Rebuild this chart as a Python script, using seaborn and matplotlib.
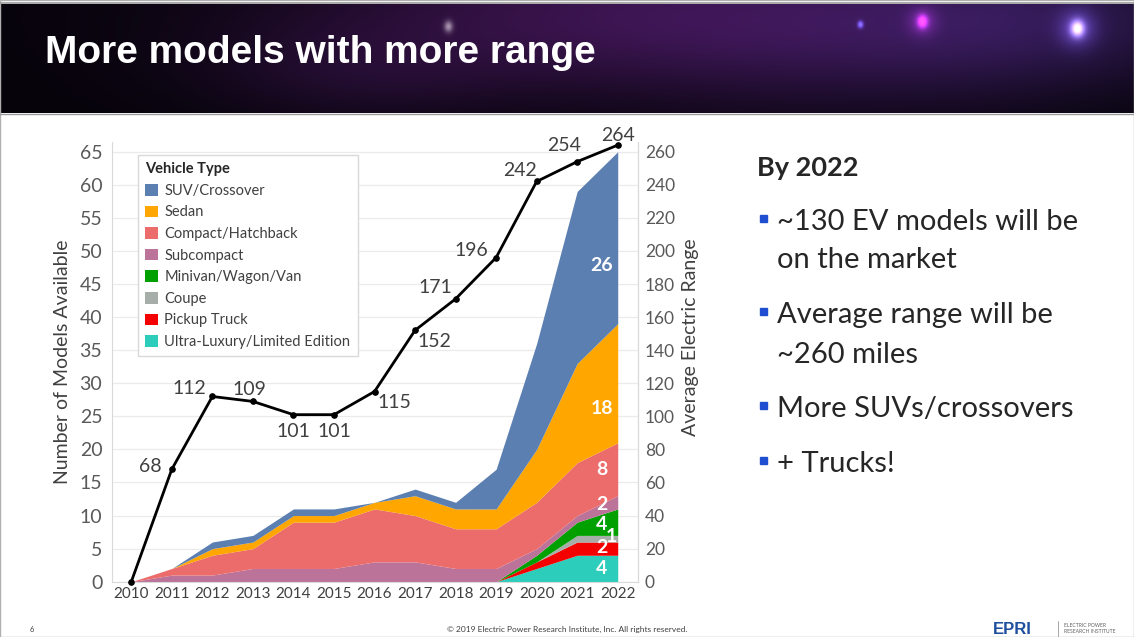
import numpy as np
import matplotlib
matplotlib.use("Agg")
import matplotlib.pyplot as plt
from matplotlib.patches import Patch, Rectangle
from matplotlib.lines import Line2D
import seaborn as sns

# ---- data -------------------------------------------------------------
years = [2010, 2011, 2012, 2013, 2014, 2015, 2016, 2017, 2018, 2019, 2020, 2021, 2022]

# models available by vehicle type (stacked bottom -> top)
ultra_luxury = [0, 0, 0, 0, 0, 0, 0, 0, 0, 0, 2, 4, 4]
pickup_truck = [0, 0, 0, 0, 0, 0, 0, 0, 0, 0, 1, 2, 2]
coupe        = [0, 0, 0, 0, 0, 0, 0, 0, 0, 0, 0, 1, 1]
minivan      = [0, 0, 0, 0, 0, 0, 0, 0, 0, 0, 1, 2, 4]
subcompact   = [0, 1, 1, 2, 2, 2, 3, 3, 2, 2, 1, 1, 2]
compact      = [0, 1, 3, 3, 7, 7, 8, 7, 6, 6, 7, 8, 8]
sedan        = [0, 0, 1, 1, 1, 1, 1, 3, 3, 3, 8, 15, 18]
suv          = [0, 0, 1, 1, 1, 1, 0, 1, 1, 6, 16, 26, 26]

# average electric range (miles)
avg_range = [0, 68, 112, 109, 101, 101, 115, 152, 171, 196, 242, 254, 264]

type_names = ["Ultra-Luxury/Limited Edition", "Pickup Truck", "Coupe",
              "Minivan/Wagon/Van", "Subcompact", "Compact/Hatchback",
              "Sedan", "SUV/Crossover"]
left_ticks = list(range(0, 66, 5))
right_ticks = list(range(0, 261, 20))

# ---- style ------------------------------------------------------------
layers = [ultra_luxury, pickup_truck, coupe, minivan, subcompact, compact, sedan, suv]
colors = ["#2ccdbb", "#f40000", "#a7aea9", "#00a000", "#bb7399", "#ec6c6c",
          "#ffa600", "#5b7fb1"]
# where each 2022 value label sits inside its band (fraction of band height)
label_frac = [0.5, 0.6, 0.8, 0.4, 0.3, 0.49, 0.29, 0.34]
label_dx = [-16, -16, -6, -16, -16, -16, -16, -16]
# offsets (pixels) of the range labels relative to their points
range_offsets = [(0, 0), (-22, 3), (-23, 8), (-3, 12), (0, -17), (0, -17), (20, -11),
                 (19, -11), (-20, 11), (-25, 7), (-17, 11), (-13, 16), (0, 10)]

sns.set_theme(style="white")
plt.rcParams["font.family"] = ["Lato", "DejaVu Sans"]

W, H = 1134, 637
fig = plt.figure(figsize=(W / 100, H / 100), dpi=100)
fig.patch.set_facecolor("white")


def fx(x):
    return x / W


def fy(y):
    return 1 - y / H


# ---- header band ------------------------------------------------------
hdr_top, hdr_bot = 4, 113
hdr = fig.add_axes([0, fy(hdr_bot), 1, (hdr_bot - hdr_top) / H])
hh = hdr_bot - hdr_top
yy, xx = np.mgrid[0:hh, 0:W].astype(float)
img = np.zeros((hh, W, 3))
img[:] = np.array([6, 3, 10]) / 255.0


def glow(cx, cy, sx, sy, color):
    g = np.exp(-0.5 * (((xx - cx) / sx) ** 2 + ((yy - cy) / sy) ** 2))
    return g[..., None] * np.array(color) / 255.0


img += glow(600, 10, 230, 55, (46, 14, 58))
img += glow(880, 25, 180, 60, (26, 12, 42))
img += glow(1060, 15, 130, 45, (22, 14, 42))
img += glow(350, 70, 110, 35, (16, 6, 22))
img += glow(448, 22, 3, 4, (120, 130, 110))
img += glow(860, 20, 2, 2.5, (90, 90, 220))
img += glow(922, 17, 3.5, 4.5, (210, 50, 210))
img += glow(922, 17, 10, 10, (60, 15, 70))
img += glow(1077, 24, 4.5, 5.5, (225, 215, 250))
img += glow(1077, 24, 13, 13, (55, 45, 110))
img = np.clip(img, 0, 1)
hdr.imshow(img, aspect="auto", extent=[0, W, hh, 0], interpolation="bilinear")
hdr.set_axis_off()
fig.add_artist(Line2D([0, 1], [fy(3), fy(3)], color="#9a9a9a", lw=1.2))
fig.add_artist(Line2D([0, 1], [fy(113.5), fy(113.5)], color="#9a9a9a", lw=1.0))
fig.text(fx(45), fy(63), "More models with more range", color="white",
         fontsize=28, fontweight="bold", family=["Liberation Sans", "DejaVu Sans"],
         va="baseline", ha="left")

# ---- chart ------------------------------------------------------------
ax_left, ax_right, ax_bottom, ax_top = 112, 638, 581.7, 141.8
ax = fig.add_axes([fx(ax_left), fy(ax_bottom), (ax_right - ax_left) / W,
                   (ax_bottom - ax_top) / H])
ax.stackplot(years, *layers, colors=colors, linewidth=0, zorder=2)
ax.set_xlim(2009.524, 2022.5)
ax.set_ylim(0, 66.5)
ax.set_yticks(left_ticks)
ax.set_xticks(years)
ax.set_xticklabels([str(y) for y in years])
ax.yaxis.grid(True, color="#ebebeb", lw=0.9, zorder=0)
ax.set_axisbelow(True)
ax.tick_params(axis="y", length=0, pad=7, labelsize=14, labelcolor="#595959")
ax.tick_params(axis="x", length=0, pad=4, labelsize=11, labelcolor="#404040")
ax.spines["top"].set_visible(False)
for s in ["left", "right", "bottom"]:
    ax.spines[s].set_color("#d9d9d9")
    ax.spines[s].set_linewidth(0.8)
ax.set_ylabel("Number of Models Available", fontsize=14, color="#404040", labelpad=6)

# value labels on the 2022 column
bottom = 0
for vals, frac, dx in zip(layers, label_frac, label_dx):
    v = vals[-1]
    ax.annotate(str(v), (years[-1], bottom + frac * v), xytext=(dx, 0),
                textcoords="offset pixels", ha="center", va="center",
                color="white", fontsize=14, fontweight="bold", zorder=5)
    bottom += v

# average range line on the secondary axis
ax2 = ax.twinx()
sns.lineplot(x=years, y=avg_range, ax=ax2, color="black", linewidth=2,
             marker="o", markersize=4, markeredgecolor="black", zorder=4)
for line in ax2.lines:
    line.set_clip_on(False)
ax2.set_ylim(0, 266)
ax2.set_yticks(right_ticks)
ax2.tick_params(axis="y", length=0, pad=5, labelsize=12.5, labelcolor="#595959")
for s in ["top", "left", "bottom"]:
    ax2.spines[s].set_visible(False)
ax2.spines["right"].set_color("#d9d9d9")
ax2.spines["right"].set_linewidth(0.8)
ax2.set_ylabel("Average Electric Range", fontsize=14, color="#404040", labelpad=6)
ax2.yaxis.set_label_coords(1.083, 0.555)

for yr, val, (dx, dy) in zip(years, avg_range, range_offsets):
    if val == 0:
        continue
    ax2.annotate(str(val), (yr, val), xytext=(dx, dy), textcoords="offset pixels",
                 ha="center", va="center", fontsize=14, color="#404040", zorder=6)

handles = [Patch(facecolor=c, edgecolor="none") for c in colors][::-1]
leg = ax2.legend(handles, type_names[::-1], title="Vehicle Type", loc="upper left",
                 bbox_to_anchor=(0.0494, 0.970), borderaxespad=0, fontsize=10.5,
                 title_fontsize=10.5, alignment="left", frameon=True, fancybox=False,
                 edgecolor="#d9d9d9", framealpha=1, handlelength=0.85,
                 handleheight=0.85, handletextpad=0.45, labelspacing=0.52,
                 borderpad=0.5)
leg.get_title().set_fontweight("bold")
leg.get_title().set_color("#262626")
for t in leg.get_texts():
    t.set_color("#404040")

# ---- bullet text ------------------------------------------------------
txt_col = "#262626"
fig.text(fx(757), fy(176), "By 2022", fontsize=19.5, fontweight="bold",
         color=txt_col, va="baseline")
bullet_lines = [
    (230, "~130 EV models will be", True),
    (268, "on the market", False),
    (323, "Average range will be", True),
    (363, "~260 miles", False),
    (417, "More SUVs/crossovers", True),
    (472, "+ Trucks!", True),
]
for y, s, has_bullet in bullet_lines:
    fig.text(fx(777), fy(y), s, fontsize=21, color=txt_col, va="baseline")
    if has_bullet:
        fig.add_artist(Rectangle((fx(760), fy(y - 8)), 7 / W, 7 / H,
                                 transform=fig.transFigure, color="#1f4fd0"))

# ---- footer -----------------------------------------------------------
fig.text(fx(30), fy(630), "6", fontsize=5.5, color="#404040", va="center")
fig.text(fx(567), fy(629), "© 2019 Electric Power Research Institute, Inc. All rights reserved.",
         fontsize=6, color="#404040", ha="center", va="center")
fig.text(fx(993), fy(629), "EPRI", fontsize=12, fontweight="bold", color="#1d4f9e",
         va="center", family=["Liberation Sans", "DejaVu Sans"])
fig.add_artist(Line2D([fx(1058), fx(1058)], [fy(621), fy(636)], color="#9a9a9a", lw=0.6))
fig.text(fx(1064), fy(628.5), "ELECTRIC POWER\nRESEARCH INSTITUTE", fontsize=3.6,
         color="#606060", va="center", linespacing=1.3)
fig.add_artist(Rectangle((0, 0), 1, 1, transform=fig.transFigure, fill=False,
                         edgecolor="#b0b0b0", lw=1))

fig.savefig("out.png", dpi=100, facecolor="white")
